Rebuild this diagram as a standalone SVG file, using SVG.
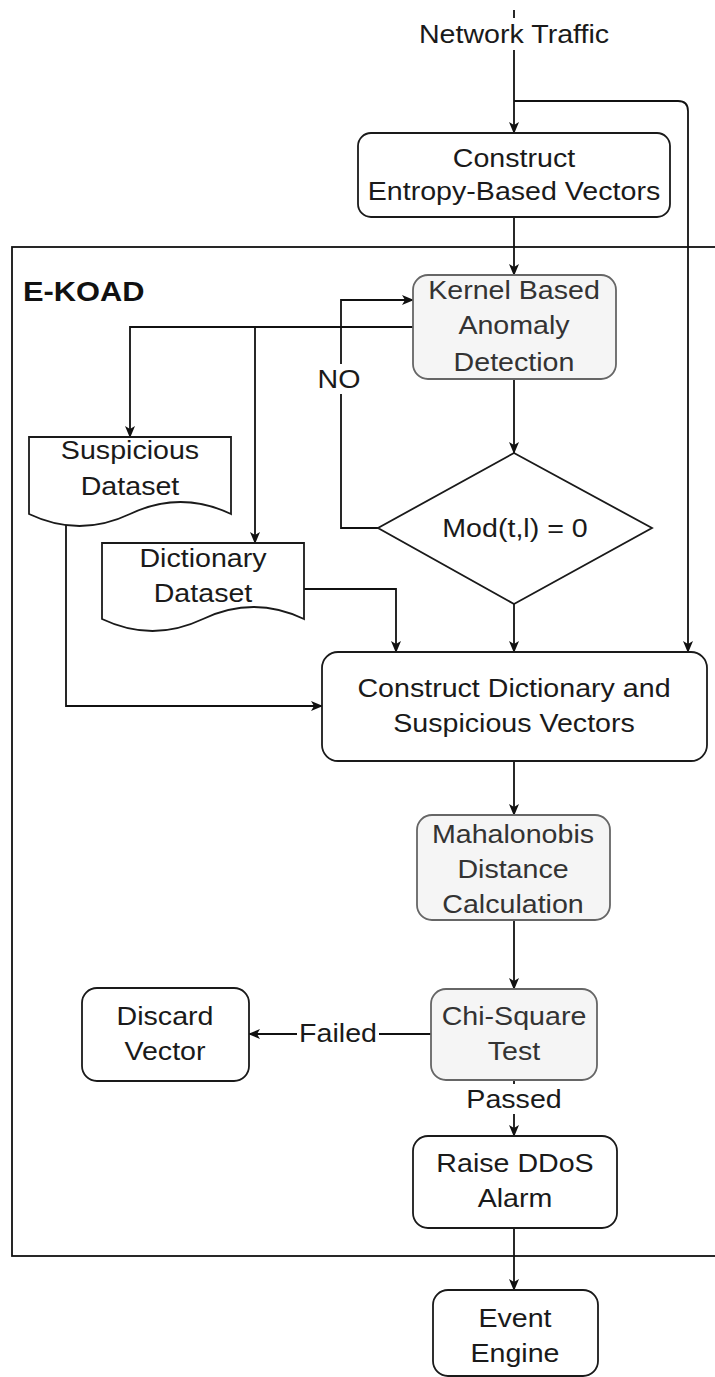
<svg xmlns="http://www.w3.org/2000/svg" width="715" height="1377" viewBox="0 0 715 1377">
<style>
.t{font-family:"Liberation Sans",Arial,sans-serif;font-size:26px;fill:#1a1a1a;text-anchor:middle}
.g{fill:#333333}
.b{font-weight:bold;font-size:28px;text-anchor:start;fill:#111}
.box{fill:#ffffff;stroke:#1a1a1a;stroke-width:1.8}
.gbox{fill:#f5f5f5;stroke:#666666;stroke-width:1.8}
.ln{fill:none;stroke:#111;stroke-width:1.8}
.lbg{fill:#ffffff}
</style>
<defs>
<marker id="arr" viewBox="0 0 12 10" refX="11" refY="5" markerWidth="12" markerHeight="10" markerUnits="userSpaceOnUse" orient="auto">
<path d="M0,0 L12,5 L0,10 L3,5 Z" fill="#111"/>
</marker>
</defs>
<rect x="0" y="0" width="715" height="1377" fill="#ffffff"/>

<g id="container">
<rect x="12" y="247" width="730" height="1009" fill="none" stroke="#111" stroke-width="1.8"/>
<text class="t b" transform="translate(23,301) scale(1.1,1)">E-KOAD</text>
</g>

<g id="connectors">
<path class="ln" d="M514,10 V133" marker-end="url(#arr)"/>
<path class="ln" d="M514,101 H678 Q688,101 688,111 V652" marker-end="url(#arr)"/>
<path class="ln" d="M514,217 V275" marker-end="url(#arr)"/>
<path class="ln" d="M514,379 V453" marker-end="url(#arr)"/>
<path class="ln" d="M413,327 H130 V437" marker-end="url(#arr)"/>
<path class="ln" d="M255,327 V543" marker-end="url(#arr)"/>
<path class="ln" d="M378,528 H341 V300 H413" marker-end="url(#arr)"/>
<path class="ln" d="M514,604 V652" marker-end="url(#arr)"/>
<path class="ln" d="M304,589 H396 V652" marker-end="url(#arr)"/>
<path class="ln" d="M66,524 V706 H322" marker-end="url(#arr)"/>
<path class="ln" d="M514,761 V815" marker-end="url(#arr)"/>
<path class="ln" d="M514,920 V989" marker-end="url(#arr)"/>
<path class="ln" d="M431,1034 H249" stroke="#444" marker-end="url(#arr)"/>
<path class="ln" d="M514,1080 V1136" marker-end="url(#arr)"/>
<path class="ln" d="M514,1228 V1290" marker-end="url(#arr)"/>
<rect class="lbg" x="418" y="18" width="192" height="32"/>
<text class="t" transform="translate(514,43) scale(1.1,1)">Network Traffic</text>
<rect class="lbg" x="322" y="364" width="36" height="30"/>
<text class="t" transform="translate(339,388) scale(1.1,1)">NO</text>
<rect class="lbg" x="297" y="1018" width="82" height="30"/>
<text class="t" transform="translate(338,1042) scale(1.1,1)">Failed</text>
<rect class="lbg" x="468" y="1084" width="94" height="30"/>
<text class="t" transform="translate(514,1108) scale(1.1,1)">Passed</text>
</g>

<g id="entropy">
<rect class="box" x="358" y="133" width="312" height="84" rx="13"/>
<text class="t" transform="translate(514,167) scale(1.1,1)">Construct</text>
<text class="t" transform="translate(514,200) scale(1.1,1)">Entropy-Based Vectors</text>
</g>

<g id="kernel">
<rect class="gbox" x="413" y="275" width="203" height="104" rx="15"/>
<text class="t g" transform="translate(514,299) scale(1.1,1)">Kernel Based</text>
<text class="t g" transform="translate(514,334) scale(1.1,1)">Anomaly</text>
<text class="t g" transform="translate(514,371) scale(1.1,1)">Detection</text>
</g>

<g id="suspicious">
<path class="box" d="M29,437 H231 V514 Q180.5,490 130,514 Q79.5,538 29,514 Z"/>
<text class="t" transform="translate(130,459) scale(1.1,1)">Suspicious</text>
<text class="t" transform="translate(130,495) scale(1.1,1)">Dataset</text>
</g>

<g id="dictionary">
<path class="box" d="M102,543 H304 V619 Q253.5,595 203,619 Q152.5,643 102,619 Z"/>
<text class="t" transform="translate(203,567) scale(1.1,1)">Dictionary</text>
<text class="t" transform="translate(203,602) scale(1.1,1)">Dataset</text>
</g>

<g id="decision">
<path class="box" d="M514,453 L652,528 L514,604 L378,528 Z"/>
<text class="t" transform="translate(515,537) scale(1.1,1)">Mod(t,l) = 0</text>
</g>

<g id="construct-dict">
<rect class="box" x="322" y="652" width="385" height="109" rx="16"/>
<text class="t" transform="translate(514,697) scale(1.1,1)">Construct Dictionary and</text>
<text class="t" transform="translate(514,732) scale(1.1,1)">Suspicious Vectors</text>
</g>

<g id="mahalonobis">
<rect class="gbox" x="417" y="815" width="193" height="105" rx="15"/>
<text class="t g" transform="translate(513,843) scale(1.1,1)">Mahalonobis</text>
<text class="t g" transform="translate(513,878) scale(1.1,1)">Distance</text>
<text class="t g" transform="translate(513,913) scale(1.1,1)">Calculation</text>
</g>

<g id="chi">
<rect class="gbox" x="431" y="989" width="166" height="91" rx="15"/>
<text class="t g" transform="translate(514,1025) scale(1.1,1)">Chi-Square</text>
<text class="t g" transform="translate(514,1060) scale(1.1,1)">Test</text>
</g>

<g id="discard">
<rect class="box" x="82" y="988" width="167" height="93" rx="15"/>
<text class="t" transform="translate(165,1025) scale(1.1,1)">Discard</text>
<text class="t" transform="translate(165,1060) scale(1.1,1)">Vector</text>
</g>

<g id="alarm">
<rect class="box" x="413" y="1136" width="204" height="92" rx="15"/>
<text class="t" transform="translate(515,1172) scale(1.1,1)">Raise DDoS</text>
<text class="t" transform="translate(515,1207) scale(1.1,1)">Alarm</text>
</g>

<g id="event">
<rect class="box" x="433" y="1290" width="165" height="86" rx="15" stroke="#333"/>
<text class="t" transform="translate(515,1327) scale(1.1,1)">Event</text>
<text class="t" transform="translate(515,1362) scale(1.1,1)">Engine</text>
</g>
</svg>
